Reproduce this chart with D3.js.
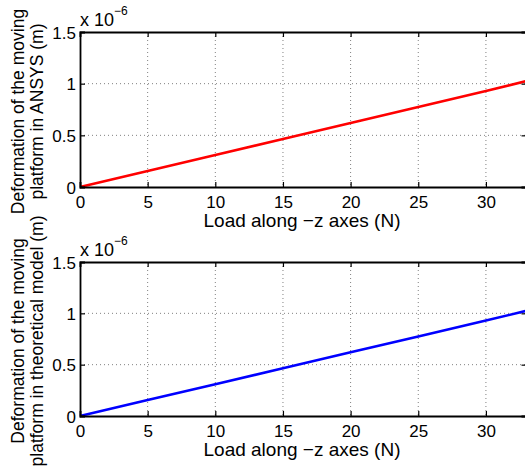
<!DOCTYPE html>
<html><head><meta charset="utf-8">
<script src="https://cdn.jsdelivr.net/npm/d3@7"></script>
<style>
html,body{margin:0;padding:0;background:#fff;}
svg{display:block;font-family:"Liberation Sans",Arial,Helvetica,sans-serif;}
</style></head>
<body>
<svg id="c" width="525" height="468"></svg>
<script>
const loadN = [0, 5, 10, 15, 20, 25, 30, 33];
const ansysDef = [0, 0.155, 0.31, 0.465, 0.62, 0.775, 0.93, 1.025];     // x 1e-6 m
const theoryDef = [0, 0.155, 0.31, 0.465, 0.62, 0.775, 0.93, 1.025];    // x 1e-6 m
const xTicks = [0, 5, 10, 15, 20, 25, 30];
const yTicks = [0, 0.5, 1, 1.5];
const yTickLabels = ["0", "0.5", "1", "1.5"];
const xLabel = "Load along \u2212z axes (N)";
const panels = [
  {values: ansysDef, color: "#ff0000", top: 32, bottom: 187,
   ylab: ["Deformation of the moving", "platform in ANSYS (m)"]},
  {values: theoryDef, color: "#0000ff", top: 262, bottom: 416,
   ylab: ["Deformation of the moving", "platform in theoretical model (m)"]}
];

const svg = d3.select("#c");
const left = 80, right = 526.5;
const x = d3.scaleLinear().domain([0, 33]).range([left, right]);

panels.forEach(p => {
  const y = d3.scaleLinear().domain([0, 1.5]).range([p.bottom, p.top]);
  const g = svg.append("g");
  // grid
  g.selectAll(".gx").data(xTicks.filter(d => d > 0)).join("line")
    .attr("x1", d => x(d)).attr("x2", d => x(d))
    .attr("y1", p.top).attr("y2", p.bottom)
    .attr("stroke", "#808080").attr("stroke-width", 1).attr("stroke-dasharray", "1,3");
  g.selectAll(".gy").data(yTicks.filter(d => d > 0 && d < 1.5)).join("line")
    .attr("x1", left).attr("x2", right)
    .attr("y1", d => y(d)).attr("y2", d => y(d))
    .attr("stroke", "#808080").attr("stroke-width", 1).attr("stroke-dasharray", "1,3");
  // data line
  const line = d3.line().x((d, i) => x(loadN[i])).y(d => y(d));
  g.append("path").datum(p.values).attr("d", line)
    .attr("fill", "none").attr("stroke", p.color).attr("stroke-width", 2.6);
  // axes (inward ticks)
  const ax = d3.axisBottom(x).tickValues(xTicks).tickSize(-5).tickPadding(9).tickFormat(d3.format("d"));
  const axTop = d3.axisTop(x).tickValues(xTicks).tickSize(-5).tickFormat("");
  const ay = d3.axisLeft(y).tickValues(yTicks).tickSize(-5).tickPadding(4).tickFormat((d, i) => yTickLabels[i]);
  const ayR = d3.axisRight(y).tickValues(yTicks).tickSize(-5).tickFormat("");
  const styleAxis = sel => {
    sel.select(".domain").attr("stroke", "#000").attr("stroke-width", 1.8);
    sel.selectAll(".tick line").attr("stroke", "#000").attr("stroke-width", 1.2);
    sel.selectAll("text").attr("fill", "#000").attr("font-size", 17).attr("font-family", null);
  };
  g.append("g").attr("transform", `translate(0,${p.bottom})`).call(ax).call(styleAxis)
    .selectAll("text").attr("dy", "0.71em");
  g.append("g").attr("transform", `translate(0,${p.top})`).call(axTop).call(styleAxis);
  g.append("g").attr("transform", `translate(${left},0)`).call(ay).call(styleAxis)
    .selectAll("text").attr("dy", "0.36em");
  g.append("g").attr("transform", `translate(${right},0)`).call(ayR).call(styleAxis);
  // exponent
  const ex = g.append("text").attr("x", 80).attr("y", p.top - 6)
    .attr("font-size", 18).attr("fill", "#000");
  ex.append("tspan").text("x 10");
  ex.append("tspan").attr("dy", -11).attr("font-size", 12).text("\u22126");
  // x label
  g.append("text").attr("x", 302).attr("y", p.bottom + 40)
    .attr("text-anchor", "middle").attr("font-size", 19).attr("fill", "#000").text(xLabel);
  // y label
  const cy = (p.top + p.bottom) / 2 + 2;
  p.ylab.forEach((t, i) => {
    g.append("text").attr("transform", `translate(${24 + i * 18.5},${cy}) rotate(-90)`)
      .attr("text-anchor", "middle").attr("font-size", 17.5).attr("fill", "#000").text(t);
  });
});
</script>
</body></html>
